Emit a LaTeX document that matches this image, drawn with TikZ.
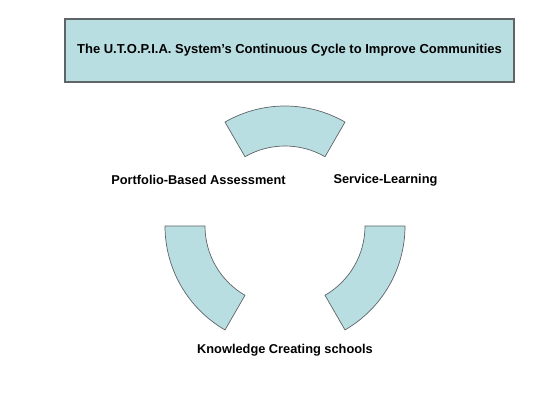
\documentclass[tikz,border=0pt]{standalone}
\usepackage{fontspec}
\setmainfont{Liberation Sans}
\usepackage{xcolor}
\usepackage{tikz}
\usetikzlibrary{positioning,calc}

\definecolor{cyclefill}{HTML}{B9DEE2}
\definecolor{cycleline}{HTML}{5F6466}

\tikzset{
  titlebox/.style={draw=cycleline,fill=cyclefill,line width=1.2pt,minimum width=449pt,minimum height=63pt,inner sep=0pt},
  segment/.style={draw=cycleline,fill=cyclefill,line width=0.7pt},
  stagelabel/.style={font=\bfseries\fontsize{12.8}{15}\selectfont,inner sep=1pt}
}

\begin{document}
\begin{tikzpicture}[x=1pt,y=1pt]
    \useasboundingbox (0,0) rectangle (560,420);
    \node[titlebox,font=\bfseries\fontsize{13}{15}\selectfont] (title) at (289.5,369.5)
      {The U.T.O.P.I.A. System's Continuous Cycle to Improve Communities};
    \coordinate (hub) at (285,194);
    \foreach \a in {60,180,300}{
      \draw[segment] ($(hub)+(\a:120)$) arc[start angle=\a,end angle=\a+60,radius=120]
        -- ($(hub)+(\a+60:80)$) arc[start angle=\a+60,end angle=\a,radius=80] -- cycle;
    }
    \node[stagelabel] (portfolio) at (198.5,240) {Portfolio-Based Assessment};
    \node[stagelabel] (service) at (385.5,240) {Service-Learning};
    \node[stagelabel] (knowledge) at (285,70) {Knowledge Creating schools};
  \end{tikzpicture}
\end{document}
